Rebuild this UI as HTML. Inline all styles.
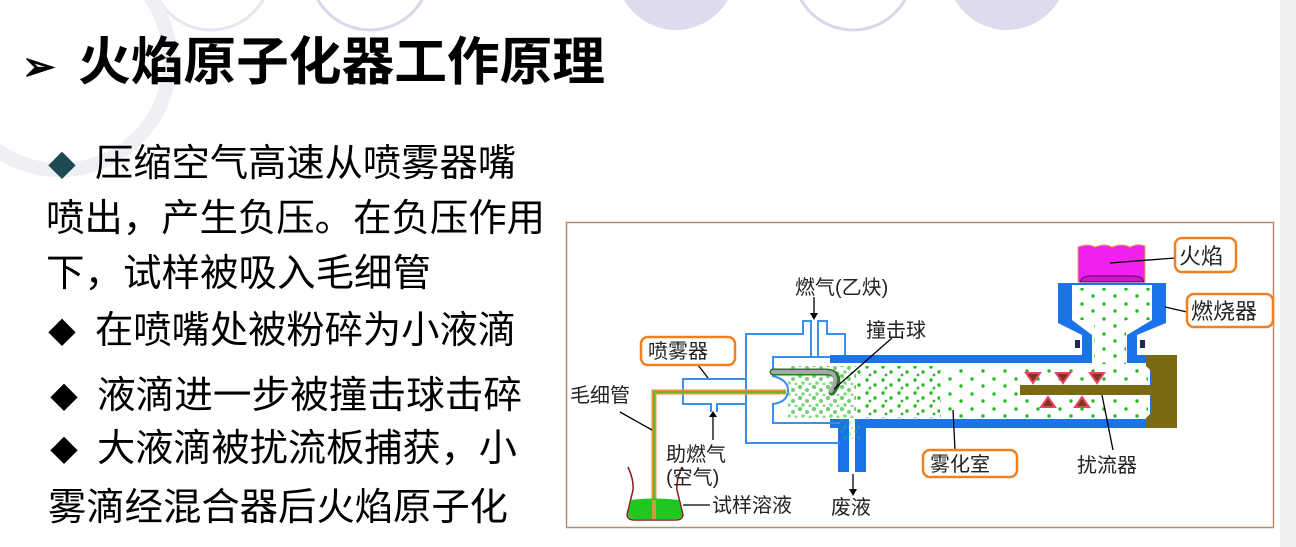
<!DOCTYPE html>
<html><head><meta charset="utf-8">
<style>
html,body{margin:0;padding:0;background:#fff;}
svg{display:block;}
text{font-family:"Liberation Sans","Noto Sans CJK SC",sans-serif;}
</style></head>
<body>
<svg width="1296" height="547" viewBox="0 0 1296 547" xmlns="http://www.w3.org/2000/svg">
<defs>
<pattern id="pd" width="14" height="11" patternUnits="userSpaceOnUse">
<circle cx="2" cy="2" r="2.2" fill="#33bb33" opacity="0.7"/><circle cx="9" cy="5" r="2" fill="#22aa22" opacity="0.6"/>
<circle cx="5" cy="9" r="1.8" fill="#44cc44" opacity="0.7"/><circle cx="12" cy="10" r="1.5" fill="#22aa22" opacity="0.5"/>
</pattern>
<pattern id="pm" width="16" height="13" patternUnits="userSpaceOnUse">
<circle cx="3" cy="3" r="1.7" fill="#22bb22"/><circle cx="11" cy="8" r="1.7" fill="#22bb22"/><circle cx="6" cy="11" r="1.4" fill="#22bb22"/>
</pattern>
<pattern id="ps" width="22" height="15" patternUnits="userSpaceOnUse">
<circle cx="4" cy="4" r="1.7" fill="#22bb22"/><circle cx="15" cy="11" r="1.7" fill="#22bb22"/>
</pattern>
</defs>
<rect width="1296" height="547" fill="#fff"/>
<rect x="1280" y="0" width="16" height="547" fill="#f0f0f0"/>
<!-- top circles -->
<circle cx="211" cy="-30" r="60" fill="none" stroke="#e6e6f2" stroke-width="3"/>
<circle cx="370" cy="-30" r="60" fill="none" stroke="#d8d8ec" stroke-width="3"/>
<circle cx="676" cy="-30" r="60" fill="#dcdcee"/>
<circle cx="853" cy="-30" r="60" fill="none" stroke="#d8d8ec" stroke-width="3"/>
<circle cx="1007" cy="-30" r="60" fill="#dcdcee"/>
<!-- watermark -->
<circle cx="60" cy="60" r="110" fill="none" stroke="#eef0f4" stroke-width="14"/>
<!-- title -->
<text x="22" y="80" font-size="40" font-weight="bold" fill="#000">➢</text>
<text x="78" y="80" font-size="52" font-weight="bold" fill="#000" textLength="527" lengthAdjust="spacingAndGlyphs">火焰原子化器工作原理</text>
<!-- left text -->
<g font-size="38" fill="#000">
<text x="48" y="176" font-size="28" fill="#1e4a55">◆</text>
<text x="95" y="176" textLength="421" lengthAdjust="spacingAndGlyphs">压缩空气高速从喷雾器嘴</text>
<text x="46" y="231" textLength="499" lengthAdjust="spacingAndGlyphs">喷出，产生负压。在负压作用</text>
<text x="46" y="286" textLength="385" lengthAdjust="spacingAndGlyphs">下，试样被吸入毛细管</text>
<text x="48" y="343" font-size="28">◆</text>
<text x="95" y="343" textLength="421" lengthAdjust="spacingAndGlyphs">在喷嘴处被粉碎为小液滴</text>
<text x="50" y="408" font-size="28">◆</text>
<text x="97" y="408" textLength="425" lengthAdjust="spacingAndGlyphs">液滴进一步被撞击球击碎</text>
<text x="50" y="461" font-size="28">◆</text>
<text x="97" y="461" textLength="420" lengthAdjust="spacingAndGlyphs">大液滴被扰流板捕获，小</text>
<text x="48" y="520" textLength="460" lengthAdjust="spacingAndGlyphs">雾滴经混合器后火焰原子化</text>
</g>
<!-- diagram box -->
<rect x="566.5" y="222.5" width="707" height="305" fill="#fff" stroke="#b88a6a" stroke-width="1.5"/>
<!-- main tube dark blue -->
<path d="M830 355 H1082 V335 L1058 323 V283 H1166 V323 L1137 335 V355 H1176 V428 H866 V472 H838 V428 H830 Z" fill="#1a73e8"/>
<!-- inner white -->
<path d="M773 363 H1092 V335 L1072 320 V285 H1152 V320 L1127 335 V363 H1150 V419 H855 V472 H849 V419 H773 Z" fill="#fff"/>
<!-- olive block -->
<path d="M1146 355 H1177 V428 H1146 V418 L1152 412 V372 L1146 366 Z" fill="#7a6a14"/>
<rect x="1020" y="385" width="133" height="10" fill="#7a6a14"/>
<rect x="1075" y="340" width="5" height="8" fill="#1a2a55"/>
<rect x="1140" y="340" width="5" height="8" fill="#1a2a55"/>
<!-- flame -->
<path d="M1078 282 V247 Q1088 243 1095 247 Q1105 243 1112 247 Q1122 243 1130 247 Q1138 243 1145 246 V282 Z" fill="#f020f0" stroke="#f0a060" stroke-width="1"/>
<path d="M1080 282 Q1082 276 1090 276 H1134 Q1142 276 1144 282 Z" fill="#c818c8" stroke="#600060" stroke-width="1"/>
<!-- light blue nebulizer outline -->
<g fill="none" stroke="#3a8ef0" stroke-width="2">
<path d="M840 443 H746 V334 H803 V321 H811 V357"/>
<path d="M818 357 V321 H827 V334 H845 V355"/>
<path d="M830 357 H773 V376 Q788 380 788 390 Q788 402 773 404 V423 H840"/>
<path d="M746 379 H683 V404 H711 V412 M717 412 V404 H746"/>
</g>
<!-- spray dots -->
<rect x="788" y="366" width="68" height="52" fill="url(#pd)"/>
<rect x="856" y="366" width="84" height="52" fill="url(#pm)"/>
<rect x="940" y="366" width="80" height="52" fill="url(#ps)"/>
<rect x="1020" y="366" width="128" height="17" fill="url(#ps)"/>
<rect x="1020" y="398" width="128" height="20" fill="url(#ps)"/>
<rect x="1094" y="320" width="32" height="44" fill="url(#ps)"/>
<rect x="1076" y="288" width="74" height="32" fill="url(#ps)"/>
<rect x="840" y="419" width="20" height="20" fill="url(#pd)" opacity="0.5"/>
<!-- impact ball tube -->
<path d="M773 372 H826 Q840 372 836 386 L832 392" fill="none" stroke="#2a7a2a" stroke-width="7" stroke-linecap="round"/>
<path d="M773 372 H826 Q838 372 834 385 L831 391" fill="none" stroke="#a8a8a8" stroke-width="4" stroke-linecap="round"/>
<!-- triangles -->
<g fill="#7a3a10" stroke="#e84070" stroke-width="2">
<polygon points="1026,373 1040,373 1033,383"/>
<polygon points="1056,373 1070,373 1063,383"/>
<polygon points="1090,373 1104,373 1097,383"/>
<polygon points="1041,407 1055,407 1048,397"/>
<polygon points="1075,407 1089,407 1082,397"/>
</g>
<!-- capillary -->
<path d="M654 505 V392 H786" fill="none" stroke="#f09030" stroke-width="5"/>
<path d="M654 505 V392 H786" fill="none" stroke="#70b030" stroke-width="2"/>
<!-- beaker -->
<path d="M628 467 Q634 480 633 490 L627 515 Q628 520 634 520 H676 Q682 520 683 515 L677 490 Q676 480 682 467" fill="none" stroke="#8a1a1a" stroke-width="1.5"/>
<path d="M631 500 L628 514 Q628 519 634 519 H676 Q682 519 682 514 L679 500 Q655 497 631 500 Z" fill="#1ec81e"/>
<path d="M654 500 V519" stroke="#c8a040" stroke-width="4"/>
<!-- arrows & leaders -->
<g stroke="#000" stroke-width="1.3" fill="none">
<line x1="814" y1="297" x2="814" y2="314"/>
<line x1="713" y1="440" x2="713" y2="416"/>
<line x1="853" y1="474" x2="853" y2="490"/>
<line x1="892" y1="338" x2="834" y2="389"/>
<line x1="698" y1="365" x2="708" y2="378"/>
<line x1="620" y1="412" x2="652" y2="430"/>
<line x1="683" y1="505" x2="710" y2="505"/>
<line x1="955" y1="450" x2="953" y2="410"/>
<line x1="1113" y1="450" x2="1102" y2="395"/>
<line x1="1110" y1="263" x2="1175" y2="258"/>
<line x1="1165" y1="307" x2="1187" y2="312"/>
</g>
<g fill="#000">
<polygon points="810,313 818,313 814,320"/>
<polygon points="709,417 717,417 713,411"/>
<polygon points="849,489 857,489 853,496"/>
</g>
<!-- label boxes -->
<g fill="#fff" stroke="#f08020" stroke-width="2.5">
<rect x="1175" y="238" width="61" height="34" rx="7"/>
<rect x="1187" y="294" width="86" height="33" rx="7"/>
<rect x="641" y="337" width="94" height="28" rx="7"/>
<rect x="923" y="450" width="94" height="27" rx="7"/>
</g>
<g font-size="20" fill="#222" font-family="'Liberation Serif','Noto Serif CJK SC',serif">
<text x="1179" y="264" font-size="22">火焰</text>
<text x="1191" y="319" font-size="22">燃烧器</text>
<text x="648" y="358">喷雾器</text>
<text x="930" y="471">雾化室</text>
<text x="795" y="294">燃气(乙炔)</text>
<text x="866" y="337">撞击球</text>
<text x="570" y="402">毛细管</text>
<text x="666" y="461">助燃气</text>
<text x="666" y="484">(空气)</text>
<text x="712" y="512">试样溶液</text>
<text x="831" y="514">废液</text>
<text x="1077" y="472">扰流器</text>
</g>
</svg>
</body></html>
